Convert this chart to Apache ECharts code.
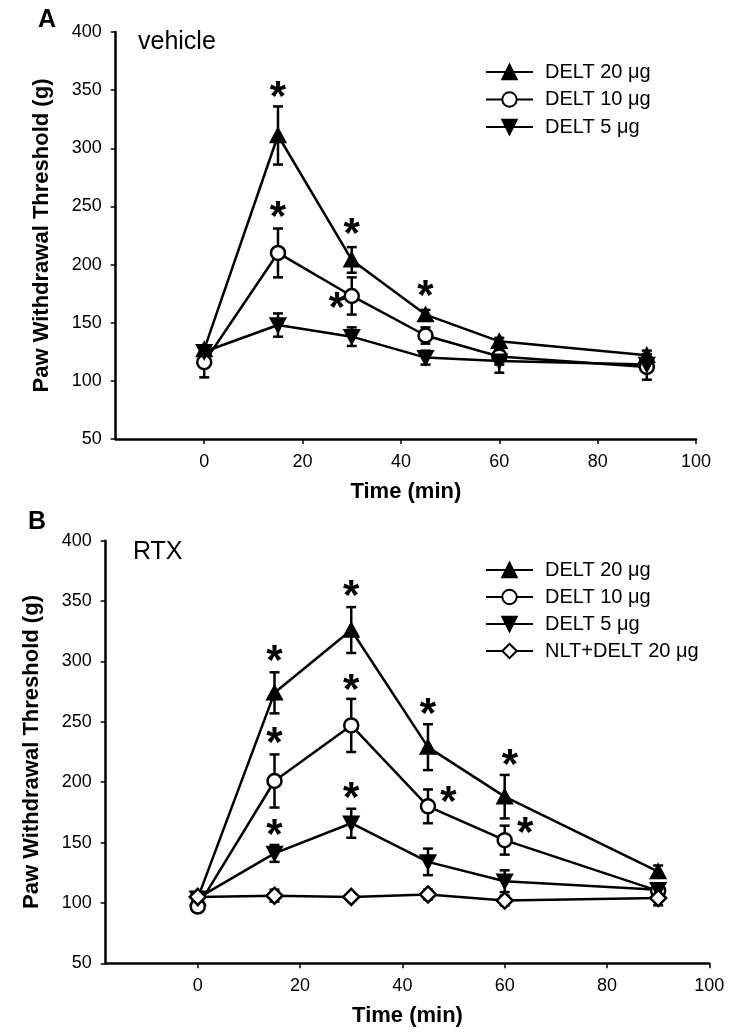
<!DOCTYPE html>
<html>
<head>
<meta charset="utf-8">
<script src="https://cdn.jsdelivr.net/npm/echarts@6/dist/echarts.min.js"></script>
<style>html,body{margin:0;padding:0;background:#fff}#c{width:750px;height:1034px}</style>
</head>
<body>
<div id="c"></div>
<script>
// ---- data ----
const times = [0, 15, 30, 45, 60, 90];
const xTicks = [0, 20, 40, 60, 80, 100];
const seriesNames = ['DELT 20 μg', 'DELT 10 μg', 'DELT 5 μg', 'NLT+DELT 20 μg'];

// Panel A (vehicle)
const A_d20 = [127, 311, 204, 157, 134, 122];
const A_d20_err = [3, 25, 11, 4, 3, 4];
const A_d10 = [116, 210, 173, 139, 121, 112];
const A_d10_err = [13, 21, 16, 7, 7, 11];
const A_d5 = [125, 148, 138, 120, 117, 114];
const A_d5_err = [4, 10, 8, 6, 10, 4];
const A_stars = [[15, 348], [15, 245], [30, 230], [27, 167], [45, 177]];

// Panel B (RTX)
const B_d20 = [104, 274, 326, 229, 188, 126];
const B_d20_err = [3, 17, 19, 19, 18, 5];
const B_d10 = [97, 201, 247, 180, 152, 110];
const B_d10_err = [3, 22, 22, 14, 12, 5];
const B_d5 = [104, 141, 166, 134, 118, 111];
const B_d5_err = [3, 7, 12, 11, 9, 5];
const B_nlt = [105, 106, 105, 107, 102, 104];
const B_nlt_err = [3, 5, 3, 4, 4, 6];
const B_stars = [[15, 304], [30, 358], [30, 280], [15, 236], [45, 260], [61, 218], [49, 187], [64, 162], [15, 160], [30, 191]];

// ---- chart ----
const FONT = '"Liberation Sans", Arial, sans-serif';
const chart = echarts.init(document.getElementById('c'), null, {renderer: 'canvas'});

function pts(ys) { return times.map((t, i) => [t, ys[i]]); }
function errPts(ys, es) { return times.map((t, i) => [t, ys[i], es[i]]); }

const symbols = {
  'DELT 20 μg': {symbol: 'triangle', symbolSize: [14, 13], symbolRotate: 0, fill: '#000'},
  'DELT 10 μg': {symbol: 'circle', symbolSize: 14, symbolRotate: 0, fill: '#fff'},
  'DELT 5 μg': {symbol: 'triangle', symbolSize: [14, 13], symbolRotate: 180, fill: '#000'},
  'NLT+DELT 20 μg': {symbol: 'diamond', symbolSize: 16, symbolRotate: 0, fill: '#fff'}
};

function lineSeries(name, ys, gi) {
  const s = symbols[name];
  return {
    type: 'line', name: name, xAxisIndex: gi, yAxisIndex: gi,
    data: pts(ys), symbol: s.symbol, symbolSize: s.symbolSize, symbolRotate: s.symbolRotate,
    showAllSymbol: true, z: 3,
    lineStyle: {color: '#000', width: 2.5},
    itemStyle: {color: s.fill, borderColor: '#000', borderWidth: 2.5, opacity: 1},
    emphasis: {disabled: true}, animation: false
  };
}

function errSeries(ys, es, gi) {
  return {
    type: 'custom', xAxisIndex: gi, yAxisIndex: gi, z: 2, silent: true, animation: false,
    data: errPts(ys, es), encode: {x: 0, y: 1},
    renderItem: function (params, api) {
      const x = api.value(0), y = api.value(1), e = api.value(2);
      const top = api.coord([x, y + e]), bot = api.coord([x, y - e]);
      const hw = 5, st = {stroke: '#000', lineWidth: 2.5};
      return {type: 'group', children: [
        {type: 'line', shape: {x1: top[0], y1: top[1], x2: bot[0], y2: bot[1]}, style: st},
        {type: 'line', shape: {x1: top[0] - hw, y1: top[1], x2: top[0] + hw, y2: top[1]}, style: st},
        {type: 'line', shape: {x1: bot[0] - hw, y1: bot[1], x2: bot[0] + hw, y2: bot[1]}, style: st}
      ]};
    }
  };
}

function starSeries(stars, gi) {
  return {
    type: 'custom', xAxisIndex: gi, yAxisIndex: gi, z: 4, silent: true, animation: false,
    data: stars, encode: {x: 0, y: 1},
    renderItem: function (params, api) {
      const p = api.coord([api.value(0), api.value(1)]);
      return {type: 'text', x: p[0], y: p[1] + 6,
        style: {text: '*', fill: '#000', font: 'bold 42px ' + FONT, align: 'center', verticalAlign: 'middle'}};
    }
  };
}

function xAxis(gi) {
  return {
    type: 'value', gridIndex: gi, min: -18, max: 100,
    name: 'Time (min)', nameLocation: 'middle', nameGap: 42, nameMoveOverlap: false,
    nameTextStyle: {fontFamily: FONT, fontWeight: 'bold', fontSize: 22, color: '#000'},
    axisLine: {onZero: false, lineStyle: {color: '#000', width: 2.5}},
    axisTick: {show: true, length: 5, lineStyle: {color: '#000', width: 1.5}, customValues: xTicks},
    axisLabel: {customValues: xTicks, margin: 14, fontFamily: FONT, fontSize: 18, color: '#000'},
    splitLine: {show: false}
  };
}
function yAxis(gi) {
  return {
    type: 'value', gridIndex: gi, min: 50, max: 400, interval: 50,
    name: 'Paw Withdrawal Threshold (g)', nameLocation: 'middle', nameGap: 63, nameMoveOverlap: false,
    nameTextStyle: {fontFamily: FONT, fontWeight: 'bold', fontSize: 22, color: '#000'},
    axisLine: {show: true, onZero: false, lineStyle: {color: '#000', width: 2.5}},
    axisTick: {show: true, length: 5, lineStyle: {color: '#000', width: 1.5}},
    axisLabel: {margin: 14, fontFamily: FONT, fontSize: 18, color: '#000'},
    splitLine: {show: false}
  };
}

function legend(names, top, gap) {
  return {
    orient: 'vertical', left: 485, top: top, itemWidth: 47, itemHeight: 18, itemGap: gap,
    padding: 0, data: names, selectedMode: false,
    textStyle: {fontFamily: FONT, fontSize: 20, color: '#000', padding: [0, 0, 0, 7]}
  };
}

const option = {
  backgroundColor: '#fff',
  animation: false,
  grid: [
    {left: 115.7, right: 54, top: 32, bottom: 595, outerBoundsMode: 'none'},
    {left: 105.7, right: 40.7, top: 540.7, bottom: 70.7, outerBoundsMode: 'none'}
  ],
  xAxis: [xAxis(0), xAxis(1)],
  yAxis: [yAxis(0), yAxis(1)],
  legend: [
    legend(seriesNames.slice(0, 3), 62, 7.5),
    legend(seriesNames, 560, 7)
  ],
  graphic: [
    {type: 'text', left: 38, top: 8, style: {text: 'A', font: 'bold 25px ' + FONT, fill: '#000'}},
    {type: 'text', left: 138, top: 30, style: {text: 'vehicle', font: '25px ' + FONT, fill: '#000'}},
    {type: 'text', left: 28, top: 510, style: {text: 'B', font: 'bold 25px ' + FONT, fill: '#000'}},
    {type: 'text', left: 133, top: 540, style: {text: 'RTX', font: '25px ' + FONT, fill: '#000'}}
  ],
  series: [
    errSeries(A_d20, A_d20_err, 0), errSeries(A_d10, A_d10_err, 0), errSeries(A_d5, A_d5_err, 0),
    lineSeries(seriesNames[0], A_d20, 0), lineSeries(seriesNames[1], A_d10, 0), lineSeries(seriesNames[2], A_d5, 0),
    starSeries(A_stars, 0),
    errSeries(B_d20, B_d20_err, 1), errSeries(B_d10, B_d10_err, 1), errSeries(B_d5, B_d5_err, 1), errSeries(B_nlt, B_nlt_err, 1),
    lineSeries(seriesNames[0], B_d20, 1), lineSeries(seriesNames[1], B_d10, 1), lineSeries(seriesNames[2], B_d5, 1), lineSeries(seriesNames[3], B_nlt, 1),
    starSeries(B_stars, 1)
  ]
};
chart.setOption(option);
</script>
</body>
</html>
